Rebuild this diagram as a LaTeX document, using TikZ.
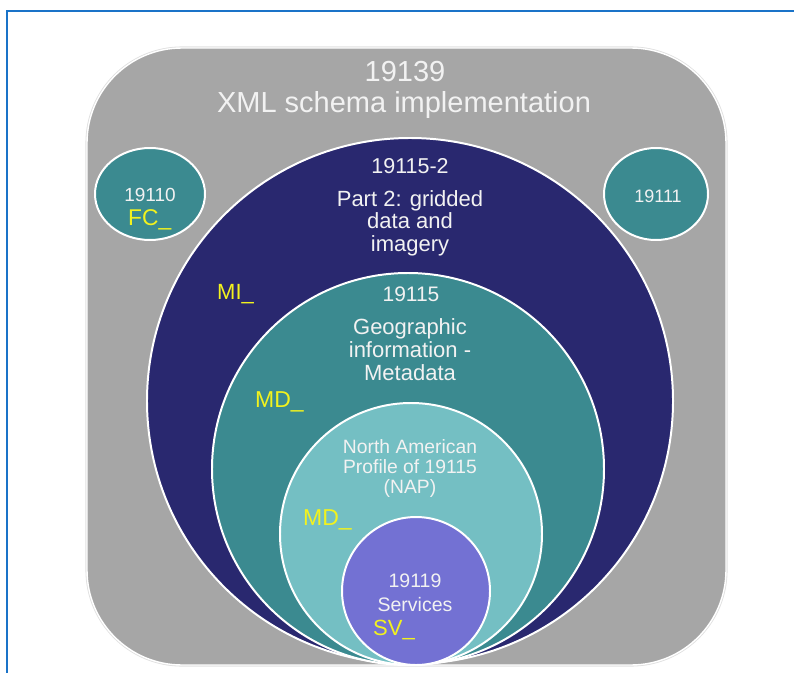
\documentclass[tikz,border=0pt]{standalone}
\usepackage{fontspec}
\setmainfont{Liberation Sans}
\usetikzlibrary{calc}

\definecolor{frameblue}{HTML}{1A73C8}
\definecolor{boxgray}{HTML}{A6A6A6}
\definecolor{navyset}{HTML}{29286F}
\definecolor{tealset}{HTML}{3B8A90}
\definecolor{lightset}{HTML}{74BFC3}
\definecolor{lilacset}{HTML}{7371D3}
\definecolor{prefixyellow}{HTML}{F2F21E}
\definecolor{labelwhite}{HTML}{F2F2F2}

\tikzset{
	setfill/.style={draw=white, line width=0.7mm, fill=#1},
	lbl/.style 2 args={text=labelwhite, inner sep=0pt, align=center, anchor=base, font=\fontsize{#1}{#2}\selectfont},
	prefix/.style={text=prefixyellow, inner sep=0pt, anchor=base west, font=\fontsize{#1}{#1}\selectfont}
}

\begin{document}
\begin{tikzpicture}[x=1bp, y=-1bp]
			%%%%% START %%%%%
			\useasboundingbox (0,0) rectangle (794,673);
			
			\draw[line width=0.7mm, color=frameblue] (7,673) -- (7,11) -- (794,11);
			
			\draw[rounded corners=95bp, line width=1.1mm, color=black!12] (87,48) rectangle (726,665);
			\draw[rounded corners=95bp, fill=boxgray, draw=white, line width=0.5mm] (87,48) rectangle (726,665);
			
			\draw[setfill=navyset] (410,401) circle (263bp);
			\draw[setfill=tealset] (408,469) circle (196bp);
			\draw[setfill=lightset] (411,534) circle (131bp);
			\draw[setfill=lilacset] (416,591) circle (74bp);
			
			\draw[setfill=tealset] (150,194) ellipse (55bp and 46bp);
			\draw[setfill=tealset] (656,194) ellipse (52bp and 46bp);
			
			% multi-line labels sit on the baseline of their last line
			\node[lbl={29bp}{30bp}] (n19139) at (405,82) {19139};
			\node[lbl={29bp}{30bp}] (xmlimpl) at (404,113) {XML schema implementation};
			
			\node[lbl={21.5bp}{22bp}] (n191152) at (410,173) {19115-2};
			\node[lbl={22bp}{22.5bp}] (gridded) at (410,251) {Part 2: gridded\\data and\\imagery};
			\node[prefix=22bp] (mi) at (217,299) {MI\textunderscore};
			
			\node[lbl={21bp}{22bp}] (n19115) at (411,301) {19115};
			\node[lbl={22bp}{23bp}] (metadata) at (410,380) {Geographic\\information -\\Metadata};
			\node[prefix=23bp] (mdouter) at (255,407) {MD\textunderscore};
			
			\node[lbl={19.3bp}{20bp}] (nap) at (410,493) {North American\\Profile of 19115\\(NAP)};
			\node[prefix=23bp] (mdinner) at (303,525) {MD\textunderscore};
			
			\node[lbl={19.5bp}{24bp}] (services) at (415,611) {19119\\Services};
			\node[prefix=22bp] (sv) at (373,635) {SV\textunderscore};
			
			\node[lbl={19bp}{20bp}] (n19110) at (150,201) {19110};
			\node[prefix=22.8bp] (fc) at (128,225) {FC\textunderscore};
			\node[lbl={18bp}{19bp}] (n19111) at (658,202) {19111};
			
			%%%%% END %%%%%
		\end{tikzpicture}
\end{document}
